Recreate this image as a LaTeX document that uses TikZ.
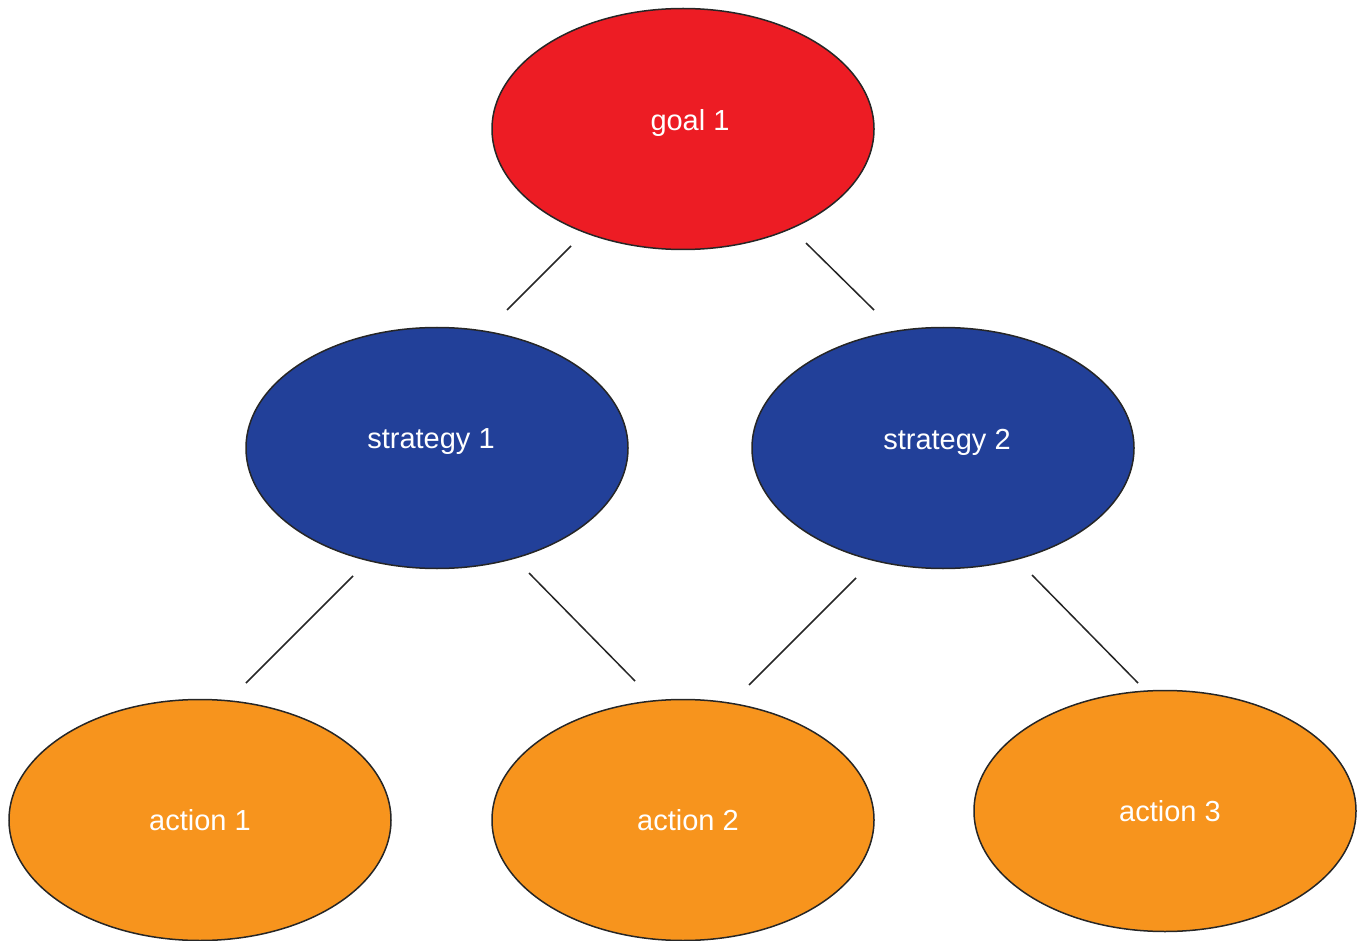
\documentclass[tikz,border=0pt]{standalone}
\usepackage{fontspec}
\setmainfont{Liberation Sans}
\usetikzlibrary{shapes.geometric}
\definecolor{goalred}{HTML}{ED1C24}
\definecolor{stratblue}{HTML}{224099}
\definecolor{actorange}{HTML}{F7941D}
% set a label off the node centre: right by #1, up by #2 (doubled, since the box stays centred)
\newcommand\offtext[3]{\raisebox{#2}{\hspace*{#1}#3}}
\begin{document}
\begin{tikzpicture}[x=1pt,y=-1pt,
  bubble/.style={ellipse,draw=black!85,line width=1.5pt,minimum width=382pt,minimum height=241pt,
    text=white,font=\fontsize{29}{33}\selectfont,inner sep=0pt},
  goalnode/.style={bubble,fill=goalred},
  stratnode/.style={bubble,fill=stratblue},
  actnode/.style={bubble,fill=actorange},
  link/.style={draw=black!85,line width=1.5pt}]
\useasboundingbox (0,0) rectangle (1360,941);
% tree levels
\node[goalnode]  (goal) at (683,129) {\offtext{14pt}{18pt}{goal 1}};
\node[stratnode] (s1)   at (437,448) {\offtext{0pt}{18pt}{strategy 1}\hspace*{12pt}};
\node[stratnode] (s2)   at (943,448) {\offtext{8pt}{18pt}{strategy 2}};
\node[actnode]   (a1)   at (200,820) {action 1};
\node[actnode]   (a2)   at (683,820) {\offtext{10pt}{0pt}{action 2}};
\node[actnode]   (a3)   at (1165,811) {\offtext{10pt}{0pt}{action 3}};
% connector end points, kept clear of the ellipses
\coordinate (g1a) at (571,246); \coordinate (g1b) at (507,310);
\coordinate (g2a) at (806,243); \coordinate (g2b) at (874,310);
\coordinate (s1a) at (353,576); \coordinate (s1b) at (246,683);
\coordinate (s1c) at (529,573); \coordinate (s1d) at (635,681);
\coordinate (s2a) at (856,578); \coordinate (s2b) at (749,685);
\coordinate (s2c) at (1032,575); \coordinate (s2d) at (1138,683);
\draw[link] (g1a) -- (g1b);
\draw[link] (g2a) -- (g2b);
\draw[link] (s1a) -- (s1b);
\draw[link] (s1c) -- (s1d);
\draw[link] (s2a) -- (s2b);
\draw[link] (s2c) -- (s2d);
\end{tikzpicture}
\end{document}
